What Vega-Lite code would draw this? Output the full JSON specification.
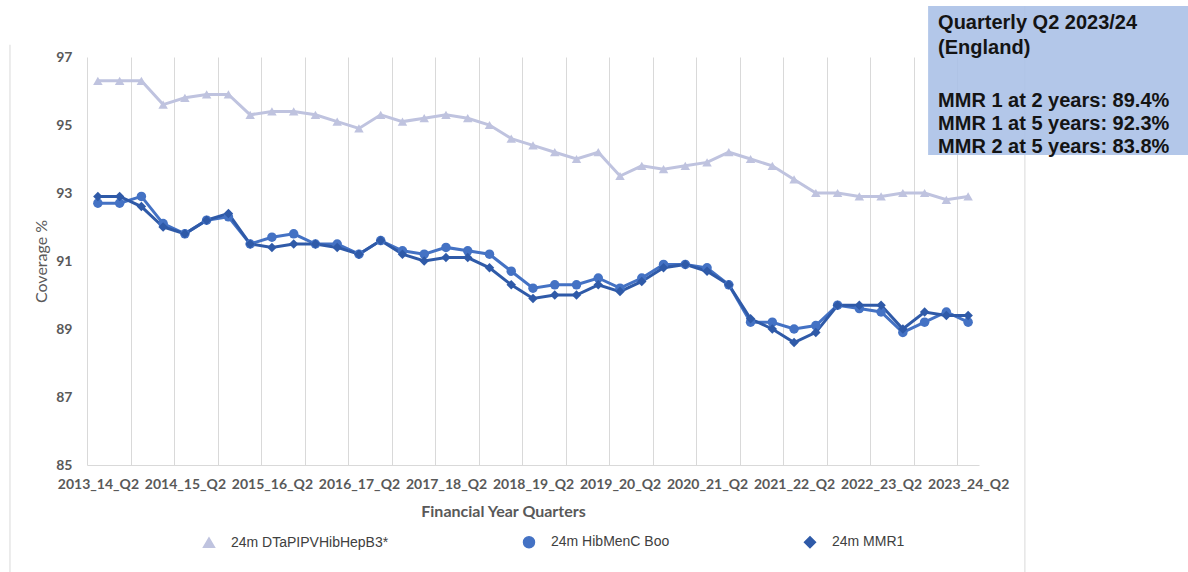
{
  "$schema": "https://vega.github.io/schema/vega-lite/v6.json",
  "width": 892,
  "height": 408,
  "autosize": {"type": "none"},
  "padding": {"left": 87, "top": 57, "right": 209, "bottom": 107},
  "background": "white",
  "config": {"view": {"stroke": null}},
  "data": {"values": [
      {"q": "2013_14_Q2", "24m DTaPIPVHibHepB3*": 96.3, "24m HibMenC Boo": 92.7, "24m MMR1": 92.9},
      {"q": "2013_14_Q3", "24m DTaPIPVHibHepB3*": 96.3, "24m HibMenC Boo": 92.7, "24m MMR1": 92.9},
      {"q": "2013_14_Q4", "24m DTaPIPVHibHepB3*": 96.3, "24m HibMenC Boo": 92.9, "24m MMR1": 92.6},
      {"q": "2014_15_Q1", "24m DTaPIPVHibHepB3*": 95.6, "24m HibMenC Boo": 92.1, "24m MMR1": 92.0},
      {"q": "2014_15_Q2", "24m DTaPIPVHibHepB3*": 95.8, "24m HibMenC Boo": 91.8, "24m MMR1": 91.8},
      {"q": "2014_15_Q3", "24m DTaPIPVHibHepB3*": 95.9, "24m HibMenC Boo": 92.2, "24m MMR1": 92.2},
      {"q": "2014_15_Q4", "24m DTaPIPVHibHepB3*": 95.9, "24m HibMenC Boo": 92.3, "24m MMR1": 92.4},
      {"q": "2015_16_Q1", "24m DTaPIPVHibHepB3*": 95.3, "24m HibMenC Boo": 91.5, "24m MMR1": 91.5},
      {"q": "2015_16_Q2", "24m DTaPIPVHibHepB3*": 95.4, "24m HibMenC Boo": 91.7, "24m MMR1": 91.4},
      {"q": "2015_16_Q3", "24m DTaPIPVHibHepB3*": 95.4, "24m HibMenC Boo": 91.8, "24m MMR1": 91.5},
      {"q": "2015_16_Q4", "24m DTaPIPVHibHepB3*": 95.3, "24m HibMenC Boo": 91.5, "24m MMR1": 91.5},
      {"q": "2016_17_Q1", "24m DTaPIPVHibHepB3*": 95.1, "24m HibMenC Boo": 91.5, "24m MMR1": 91.4},
      {"q": "2016_17_Q2", "24m DTaPIPVHibHepB3*": 94.9, "24m HibMenC Boo": 91.2, "24m MMR1": 91.2},
      {"q": "2016_17_Q3", "24m DTaPIPVHibHepB3*": 95.3, "24m HibMenC Boo": 91.6, "24m MMR1": 91.6},
      {"q": "2016_17_Q4", "24m DTaPIPVHibHepB3*": 95.1, "24m HibMenC Boo": 91.3, "24m MMR1": 91.2},
      {"q": "2017_18_Q1", "24m DTaPIPVHibHepB3*": 95.2, "24m HibMenC Boo": 91.2, "24m MMR1": 91.0},
      {"q": "2017_18_Q2", "24m DTaPIPVHibHepB3*": 95.3, "24m HibMenC Boo": 91.4, "24m MMR1": 91.1},
      {"q": "2017_18_Q3", "24m DTaPIPVHibHepB3*": 95.2, "24m HibMenC Boo": 91.3, "24m MMR1": 91.1},
      {"q": "2017_18_Q4", "24m DTaPIPVHibHepB3*": 95.0, "24m HibMenC Boo": 91.2, "24m MMR1": 90.8},
      {"q": "2018_19_Q1", "24m DTaPIPVHibHepB3*": 94.6, "24m HibMenC Boo": 90.7, "24m MMR1": 90.3},
      {"q": "2018_19_Q2", "24m DTaPIPVHibHepB3*": 94.4, "24m HibMenC Boo": 90.2, "24m MMR1": 89.9},
      {"q": "2018_19_Q3", "24m DTaPIPVHibHepB3*": 94.2, "24m HibMenC Boo": 90.3, "24m MMR1": 90.0},
      {"q": "2018_19_Q4", "24m DTaPIPVHibHepB3*": 94.0, "24m HibMenC Boo": 90.3, "24m MMR1": 90.0},
      {"q": "2019_20_Q1", "24m DTaPIPVHibHepB3*": 94.2, "24m HibMenC Boo": 90.5, "24m MMR1": 90.3},
      {"q": "2019_20_Q2", "24m DTaPIPVHibHepB3*": 93.5, "24m HibMenC Boo": 90.2, "24m MMR1": 90.1},
      {"q": "2019_20_Q3", "24m DTaPIPVHibHepB3*": 93.8, "24m HibMenC Boo": 90.5, "24m MMR1": 90.4},
      {"q": "2019_20_Q4", "24m DTaPIPVHibHepB3*": 93.7, "24m HibMenC Boo": 90.9, "24m MMR1": 90.8},
      {"q": "2020_21_Q1", "24m DTaPIPVHibHepB3*": 93.8, "24m HibMenC Boo": 90.9, "24m MMR1": 90.9},
      {"q": "2020_21_Q2", "24m DTaPIPVHibHepB3*": 93.9, "24m HibMenC Boo": 90.8, "24m MMR1": 90.7},
      {"q": "2020_21_Q3", "24m DTaPIPVHibHepB3*": 94.2, "24m HibMenC Boo": 90.3, "24m MMR1": 90.3},
      {"q": "2020_21_Q4", "24m DTaPIPVHibHepB3*": 94.0, "24m HibMenC Boo": 89.2, "24m MMR1": 89.3},
      {"q": "2021_22_Q1", "24m DTaPIPVHibHepB3*": 93.8, "24m HibMenC Boo": 89.2, "24m MMR1": 89.0},
      {"q": "2021_22_Q2", "24m DTaPIPVHibHepB3*": 93.4, "24m HibMenC Boo": 89.0, "24m MMR1": 88.6},
      {"q": "2021_22_Q3", "24m DTaPIPVHibHepB3*": 93.0, "24m HibMenC Boo": 89.1, "24m MMR1": 88.9},
      {"q": "2021_22_Q4", "24m DTaPIPVHibHepB3*": 93.0, "24m HibMenC Boo": 89.7, "24m MMR1": 89.7},
      {"q": "2022_23_Q1", "24m DTaPIPVHibHepB3*": 92.9, "24m HibMenC Boo": 89.6, "24m MMR1": 89.7},
      {"q": "2022_23_Q2", "24m DTaPIPVHibHepB3*": 92.9, "24m HibMenC Boo": 89.5, "24m MMR1": 89.7},
      {"q": "2022_23_Q3", "24m DTaPIPVHibHepB3*": 93.0, "24m HibMenC Boo": 88.9, "24m MMR1": 89.0},
      {"q": "2022_23_Q4", "24m DTaPIPVHibHepB3*": 93.0, "24m HibMenC Boo": 89.2, "24m MMR1": 89.5},
      {"q": "2023_24_Q1", "24m DTaPIPVHibHepB3*": 92.8, "24m HibMenC Boo": 89.5, "24m MMR1": 89.4},
      {"q": "2023_24_Q2", "24m DTaPIPVHibHepB3*": 92.9, "24m HibMenC Boo": 89.2, "24m MMR1": 89.4}
  ]},
  "layer": [
    {
      "transform": [
        {"window": [{"op": "row_number", "as": "n"}]},
        {"fold": ["24m DTaPIPVHibHepB3*", "24m HibMenC Boo", "24m MMR1"], "as": ["series", "value"]}
      ],
      "mark": {"type": "line", "strokeWidth": 3},
      "encoding": {
        "x": {
          "field": "n", "type": "quantitative",
          "scale": {"domain": [0.5, 41.5], "nice": false, "zero": false},
          "axis": {
            "title": "Financial Year Quarters",
            "values": [0.5, 1.5, 2.5, 3.5, 4.5, 5.5, 6.5, 7.5, 8.5, 9.5, 10.5, 11.5, 12.5, 13.5, 14.5, 15.5, 16.5, 17.5, 18.5, 19.5, 20.5, 21.5, 22.5, 23.5, 24.5, 25.5, 26.5, 27.5, 28.5, 29.5, 30.5, 31.5, 32.5, 33.5, 34.5, 35.5, 36.5, 37.5, 38.5, 39.5, 40.5, 41.5],
            "labelExpr": "(datum.value - 0.5) % 4 == 0 ? (2013 + (datum.value - 0.5) / 4) + '_' + (14 + (datum.value - 0.5) / 4) + '_Q2' : ''",
            "labelOffset": 10.9, "labelFlush": false, "labelBound": false,
            "labelAngle": 0, "labelOverlap": false, "labelPadding": 12,
            "labelFont": "Lato", "labelFontSize": 14, "labelFontWeight": "bold", "labelColor": "#595959",
            "ticks": false, "grid": true, "gridColor": "#d9d9d9", "gridWidth": 1,
            "domainColor": "#d9d9d9", "domainWidth": 1,
            "titleFont": "Lato", "titleFontSize": 16, "titleFontWeight": "bold", "titleColor": "#595959",
            "titlePadding": 12, "titleX": 416, "titleAlign": "center"
          }
        },
        "y": {
          "field": "value", "type": "quantitative",
          "scale": {"domain": [85, 97], "nice": false, "zero": false},
          "axis": {
            "title": "Coverage %", "values": [85, 87, 89, 91, 93, 95, 97],
            "grid": false, "domain": false, "ticks": false, "labelPadding": 15,
            "labelFont": "Lato", "labelFontSize": 14, "labelFontWeight": "bold", "labelColor": "#595959",
            "titleFont": "Lato", "titleFontSize": 16, "titleFontWeight": "normal", "titleColor": "#595959",
            "titlePadding": 6
          }
        },
        "color": {
          "field": "series", "type": "nominal",
          "scale": {"domain": ["24m DTaPIPVHibHepB3*", "24m HibMenC Boo", "24m MMR1"], "range": ["#bfc3df", "#4472c4", "#2f5aa8"]},
          "legend": {
            "orient": "none", "legendX": 115, "legendY": 478, "direction": "horizontal",
            "title": null, "columnPadding": 131, "padding": 0, "symbolSize": 120,
            "labelFont": "Liberation Sans", "labelFontSize": 14, "labelColor": "#404040", "labelOffset": 15
          }
        }
      }
    },
    {
      "transform": [
        {"window": [{"op": "row_number", "as": "n"}]},
        {"fold": ["24m DTaPIPVHibHepB3*", "24m HibMenC Boo", "24m MMR1"], "as": ["series", "value"]}
      ],
      "mark": {"type": "point", "filled": true, "opacity": 1, "size": 90},
      "encoding": {
        "x": {"field": "n", "type": "quantitative"},
        "y": {"field": "value", "type": "quantitative"},
        "color": {"field": "series", "type": "nominal"},
        "shape": {
          "field": "series", "type": "nominal",
          "scale": {"domain": ["24m DTaPIPVHibHepB3*", "24m HibMenC Boo", "24m MMR1"], "range": ["triangle-up", "circle", "diamond"]},
          "legend": null
        }
      }
    },
    {
      "data": {"values": [{}]},
      "mark": {"type": "rule", "color": "#d9d9d9", "strokeWidth": 1},
      "encoding": {
        "x": {"datum": -3.04, "type": "quantitative"},
        "y": {"datum": 97.36, "type": "quantitative"},
        "y2": {"datum": 81.8}
      }
    },
    {
      "data": {"values": [{}]},
      "mark": {"type": "rule", "color": "#d9d9d9", "strokeWidth": 1},
      "encoding": {
        "x": {"datum": 43.61, "type": "quantitative"},
        "y": {"datum": 98.5, "type": "quantitative"},
        "y2": {"datum": 81.8}
      }
    },
    {
      "data": {"values": [{}]},
      "mark": {"type": "rect", "fill": "#a9bfe6", "opacity": 0.88},
      "encoding": {
        "x": {"datum": 39.16, "type": "quantitative"},
        "x2": {"datum": 51.11},
        "y": {"datum": 98.5, "type": "quantitative"},
        "y2": {"datum": 94.12}
      }
    },
    {
      "data": {"values": [{}]},
      "mark": {
        "type": "text",
        "text": ["Quarterly Q2 2023/24", "(England)"],
        "align": "left", "baseline": "top", "font": "Liberation Sans", "fontSize": 20, "fontWeight": "bold",
        "lineHeight": 25, "color": "#141414"
      },
      "encoding": {
        "x": {"datum": 39.62, "type": "quantitative"},
        "y": {"datum": 98.3, "type": "quantitative"}
      }
    },
    {
      "data": {"values": [{}]},
      "mark": {
        "type": "text",
        "text": ["MMR 1 at 2 years: 89.4%", "MMR 1 at 5 years: 92.3%", "MMR 2 at 5 years: 83.8%"],
        "align": "left", "baseline": "top", "font": "Liberation Sans", "fontSize": 20, "fontWeight": "bold",
        "lineHeight": 23, "color": "#141414"
      },
      "encoding": {
        "x": {"datum": 39.62, "type": "quantitative"},
        "y": {"datum": 96.01, "type": "quantitative"}
      }
    }
  ]
}
